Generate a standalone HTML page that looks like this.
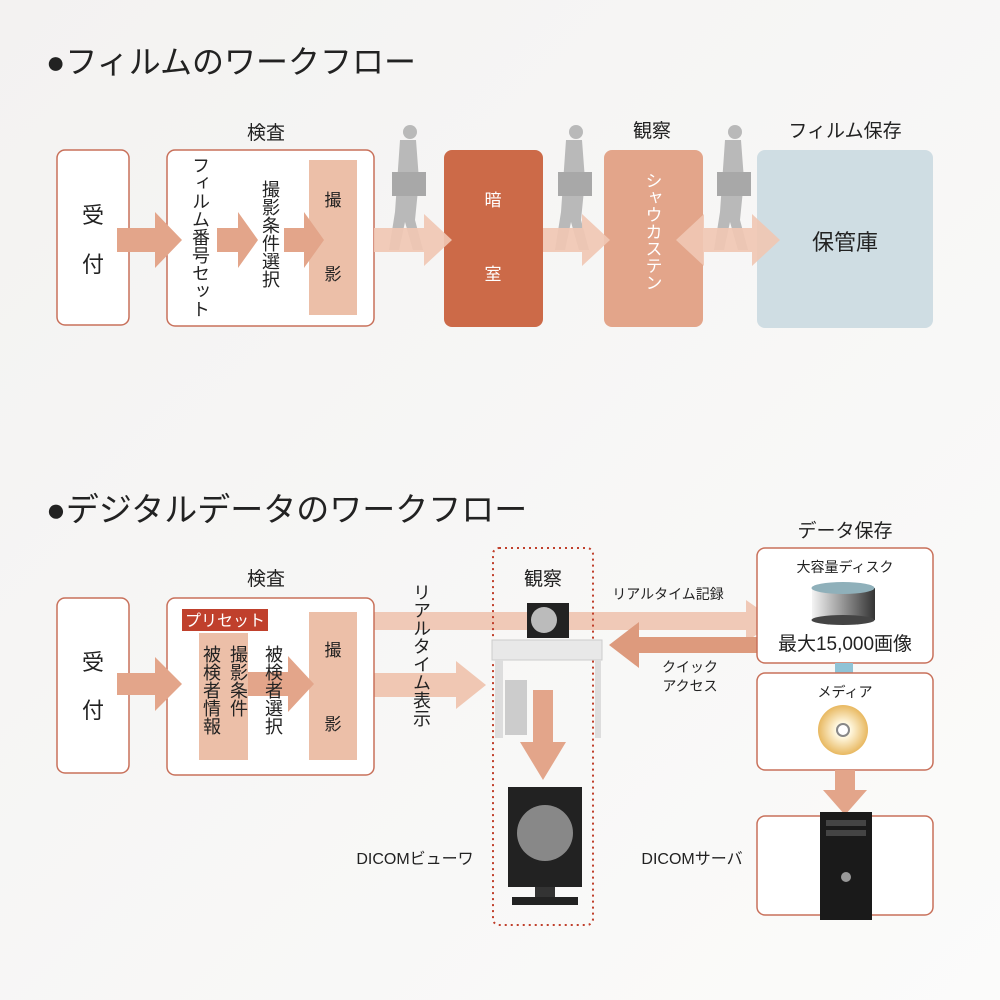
<!DOCTYPE html>
<html><head><meta charset="utf-8"><style>
body{margin:0;background:#f6f5f4}
svg{display:block}
text{font-family:"Liberation Sans","Noto Sans CJK JP",sans-serif;fill:#222}
</style></head><body>
<svg width="1000" height="1000" viewBox="0 0 1000 1000">
<defs>
<linearGradient id="bg" x1="0" y1="0" x2="1" y2="1"><stop offset="0" stop-color="#f3f2f1"/><stop offset="1" stop-color="#fbfbfa"/></linearGradient>
<linearGradient id="cyl" x1="0" x2="1"><stop offset="0" stop-color="#f4f4f4"/><stop offset="1" stop-color="#333"/></linearGradient>
<radialGradient id="disk"><stop offset="0.3" stop-color="#fff8e0"/><stop offset="1" stop-color="#e8b860"/></radialGradient>
<g id="person" fill="#b9b9b9">
<circle cx="2" cy="0" r="7"/>
<path d="M-8 8 h16 l3 40 l-4 40 l8 30 h-10 l-8 -28 l-6 28 h-10 l6 -38 z"/>
<rect x="-16" y="40" width="34" height="24" fill="#a8a8a8"/>
</g>
</defs>
<rect width="1000" height="1000" fill="url(#bg)"/>

<!-- TOP -->
<text x="46" y="73" font-size="32">●フィルムのワークフロー</text>
<text x="266" y="139" font-size="19" text-anchor="middle">検査</text>
<text x="652" y="137" font-size="19" text-anchor="middle">観察</text>
<text x="845" y="137" font-size="19" text-anchor="middle">フィルム保存</text>

<use href="#person" x="408" y="132"/>
<use href="#person" x="574" y="132"/>
<use href="#person" x="733" y="132"/>

<rect x="57" y="150" width="72" height="175" rx="8" fill="#fff" stroke="#c8705a" stroke-width="1.5"/>
<text x="93" y="223" font-size="22" text-anchor="middle">受</text>
<text x="93" y="272" font-size="22" text-anchor="middle">付</text>
<rect x="167" y="150" width="207" height="176" rx="8" fill="#fff" stroke="#c8705a" stroke-width="1.5"/>
<rect x="309" y="160" width="48" height="155" fill="#ecbfa8"/>
<text x="333" y="206" font-size="17" text-anchor="middle">撮</text>
<text x="333" y="280" font-size="17" text-anchor="middle">影</text>
<g fill="#e3a58a">
<path d="M117 228 h38 v-16 l27 28 l-27 28 v-16 h-38 z"/>
<path d="M217 228 h21 v-16 l20 28 l-20 28 v-16 h-21 z"/>
<path d="M284 228 h20 v-16 l20 28 l-20 28 v-16 h-20 z"/>
</g>
<text font-size="18" x="200" y="156" style="writing-mode:vertical-rl">フィルム番号セット</text>
<text font-size="18" x="270" y="180" style="writing-mode:vertical-rl">撮影条件選択</text>

<rect x="444" y="150" width="99" height="177" rx="8" fill="#cc6a48"/>
<text x="493" y="206" font-size="17" text-anchor="middle" style="fill:#fff">暗</text>
<text x="493" y="280" font-size="17" text-anchor="middle" style="fill:#fff">室</text>
<rect x="604" y="150" width="99" height="177" rx="8" fill="#e3a58a"/>
<text x="652" y="172" font-size="17" style="fill:#fff;writing-mode:vertical-rl">シャウカステン</text>
<rect x="757" y="150" width="176" height="178" rx="8" fill="#cfdde3"/>
<text x="845" y="250" font-size="22" text-anchor="middle">保管庫</text>

<!-- light arrows on top -->
<g fill="#f0c7b3" opacity="0.92">
<path d="M374 228 h50 v-14 l28 26 l-28 26 v-14 h-50 z"/>
<path d="M543 228 h39 v-14 l28 26 l-28 26 v-14 h-39 z"/>
<path d="M676 240 l28 -26 v14 h48 v-14 l28 26 l-28 26 v-14 h-48 v14 z"/>
</g>

<!-- BOTTOM -->
<text x="46" y="521" font-size="33">●デジタルデータのワークフロー</text>
<text x="266" y="585" font-size="19" text-anchor="middle">検査</text>
<text x="845" y="537" font-size="19" text-anchor="middle">データ保存</text>

<path d="M374 612 h372 v-12 l30 21 l-30 21 v-12 h-372 z" fill="#f0c9b7"/>
<path d="M757 637 h-118 v-15 l-30 23 l30 23 v-15 h118 z" fill="#dd9a7d"/>
<path d="M374 673 h82 v-12 l30 24 l-30 24 v-12 h-82 z" fill="#f0c7b3"/>

<rect x="57" y="598" width="72" height="175" rx="8" fill="#fff" stroke="#c8705a" stroke-width="1.5"/>
<text x="93" y="670" font-size="22" text-anchor="middle">受</text>
<text x="93" y="718" font-size="22" text-anchor="middle">付</text>
<rect x="167" y="598" width="207" height="177" rx="8" fill="#fff" stroke="#c8705a" stroke-width="1.5"/>
<path d="M117 673 h38 v-16 l27 27 l-27 27 v-16 h-38 z" fill="#e3a58a"/>
<rect x="199" y="633" width="49" height="127" fill="#ecbfa8"/>
<rect x="309" y="612" width="48" height="148" fill="#ecbfa8"/>
<path d="M248 672 h40 v-16 l26 28 l-26 28 v-16 h-40 z" fill="#e3a58a"/>
<rect x="182" y="609" width="86" height="22" fill="#c0402c"/>
<text x="225" y="626" font-size="16" text-anchor="middle" style="fill:#fff">プリセット</text>
<text font-size="18" x="238" y="645" style="writing-mode:vertical-rl">撮影条件</text>
<text font-size="18" x="211" y="645" style="writing-mode:vertical-rl">被検者情報</text>
<text font-size="18" x="273" y="645" style="writing-mode:vertical-rl">被検者選択</text>
<text x="333" y="656" font-size="17" text-anchor="middle">撮</text>
<text x="333" y="730" font-size="17" text-anchor="middle">影</text>
<text font-size="18" x="421" y="583" style="writing-mode:vertical-rl">リアルタイム表示</text>

<rect x="493" y="548" width="100" height="377" rx="6" fill="none" stroke="#c0402c" stroke-width="2" stroke-dasharray="2 4"/>
<text x="543" y="585" font-size="19" text-anchor="middle">観察</text>
<rect x="527" y="603" width="42" height="35" fill="#222"/>
<circle cx="544" cy="620" r="13" fill="#bbb"/>
<path d="M492 640 h110 v20 h-110 z" fill="#e8e8e8" stroke="#ccc"/>
<rect x="495" y="660" width="8" height="78" fill="#ddd"/>
<rect x="595" y="660" width="6" height="78" fill="#ddd"/>
<rect x="505" y="680" width="22" height="55" fill="#ccc"/>
<path d="M533 690 h20 v52 h13 l-23 38 l-23 -38 h13 z" fill="#e3a58a"/>
<rect x="508" y="787" width="74" height="100" fill="#222"/>
<circle cx="545" cy="833" r="28" fill="#888"/>
<rect x="535" y="887" width="20" height="10" fill="#333"/>
<rect x="512" y="897" width="66" height="8" fill="#222"/>
<text x="415" y="864" font-size="16" text-anchor="middle">DICOMビューワ</text>

<text x="668" y="599" font-size="14" text-anchor="middle">リアルタイム記録</text>
<text x="690" y="672" font-size="14" text-anchor="middle">クイック</text>
<text x="690" y="691" font-size="14" text-anchor="middle">アクセス</text>

<rect x="757" y="548" width="176" height="115" rx="8" fill="#fff" stroke="#c8705a" stroke-width="1.5"/>
<text x="845" y="572" font-size="14" text-anchor="middle">大容量ディスク</text>
<rect x="812" y="588" width="63" height="32" fill="url(#cyl)"/>
<ellipse cx="843" cy="620" rx="31.5" ry="5" fill="#444"/>
<ellipse cx="843" cy="588" rx="31.5" ry="6" fill="#8fb0ba"/>
<text x="845" y="650" font-size="19" text-anchor="middle">最大15,000画像</text>
<rect x="835" y="663" width="18" height="10" fill="#8fc3d6"/>
<rect x="757" y="673" width="176" height="97" rx="8" fill="#fff" stroke="#c8705a" stroke-width="1.5"/>
<text x="845" y="697" font-size="14" text-anchor="middle">メディア</text>
<circle cx="843" cy="730" r="25" fill="url(#disk)"/>
<circle cx="843" cy="730" r="6" fill="#fff" stroke="#888" stroke-width="2"/>
<path d="M835 770 h20 v20 h12 l-22 25 l-22 -25 h12 z" fill="#e3a58a"/>
<rect x="757" y="816" width="176" height="99" rx="8" fill="#fff" stroke="#c8705a" stroke-width="1.5"/>
<rect x="820" y="812" width="52" height="108" fill="#1a1a1a"/>
<rect x="826" y="820" width="40" height="6" fill="#444"/>
<rect x="826" y="830" width="40" height="6" fill="#444"/>
<circle cx="846" cy="877" r="5" fill="#999"/>
<text x="692" y="864" font-size="16" text-anchor="middle">DICOMサーバ</text>
</svg>
</body></html>
